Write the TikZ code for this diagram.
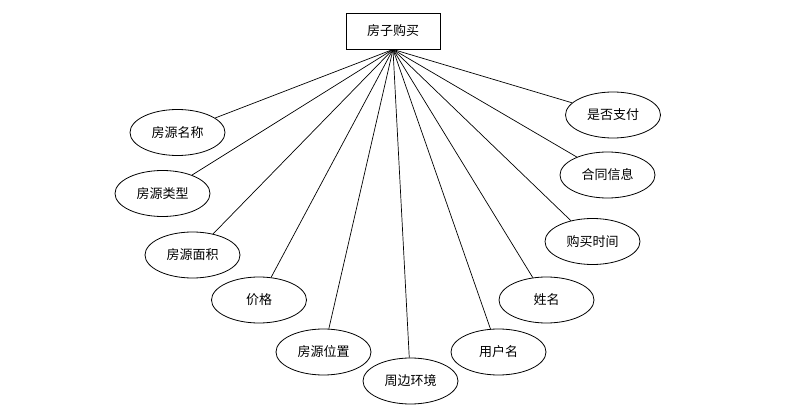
\documentclass[tikz,border=0pt]{standalone}
\usepackage{fontspec}
\setmainfont{Noto Sans CJK SC}
\usepackage{tikz}
\usetikzlibrary{shapes.geometric}

\begin{document}
\begin{tikzpicture}[
  x=1pt, y=-1pt,
  entity/.style={rectangle, draw, line width=0.9pt, minimum width=94pt,
                 minimum height=36pt, inner sep=0pt, font=\fontsize{13}{15}\selectfont},
  attr/.style={ellipse, draw, line width=0.8pt, minimum width=95pt,
               minimum height=46pt, inner sep=0pt, font=\fontsize{13}{15}\selectfont},
  link/.style={line width=0.7pt}
]
  \useasboundingbox (0,0) rectangle (812,414);

  \node[entity] (buy) at (393,31) {房子购买};

  \node[attr] (name)   at (177.5,132.5) {房源名称};
  \node[attr] (type)   at (162.5,193.5) {房源类型};
  \node[attr] (area)   at (192.5,255)   {房源面积};
  \node[attr] (price)  at (259,300)     {价格};
  \node[attr] (place)  at (323.5,352)   {房源位置};
  \node[attr] (around) at (410.5,381)   {周边环境};
  \node[attr] (user)   at (498.5,352)   {用户名};
  \node[attr] (real)   at (546.5,300)   {姓名};
  \node[attr] (time)   at (592.5,241.5) {购买时间};
  \node[attr] (deal)   at (607.5,175)   {合同信息};
  \node[attr] (paid)   at (613,115)     {是否支付};

  \foreach \a in {name,type,area,price,place,around,user,real,time,deal,paid}
    \draw[link] (buy.south) -- (\a);
\end{tikzpicture}
\end{document}
